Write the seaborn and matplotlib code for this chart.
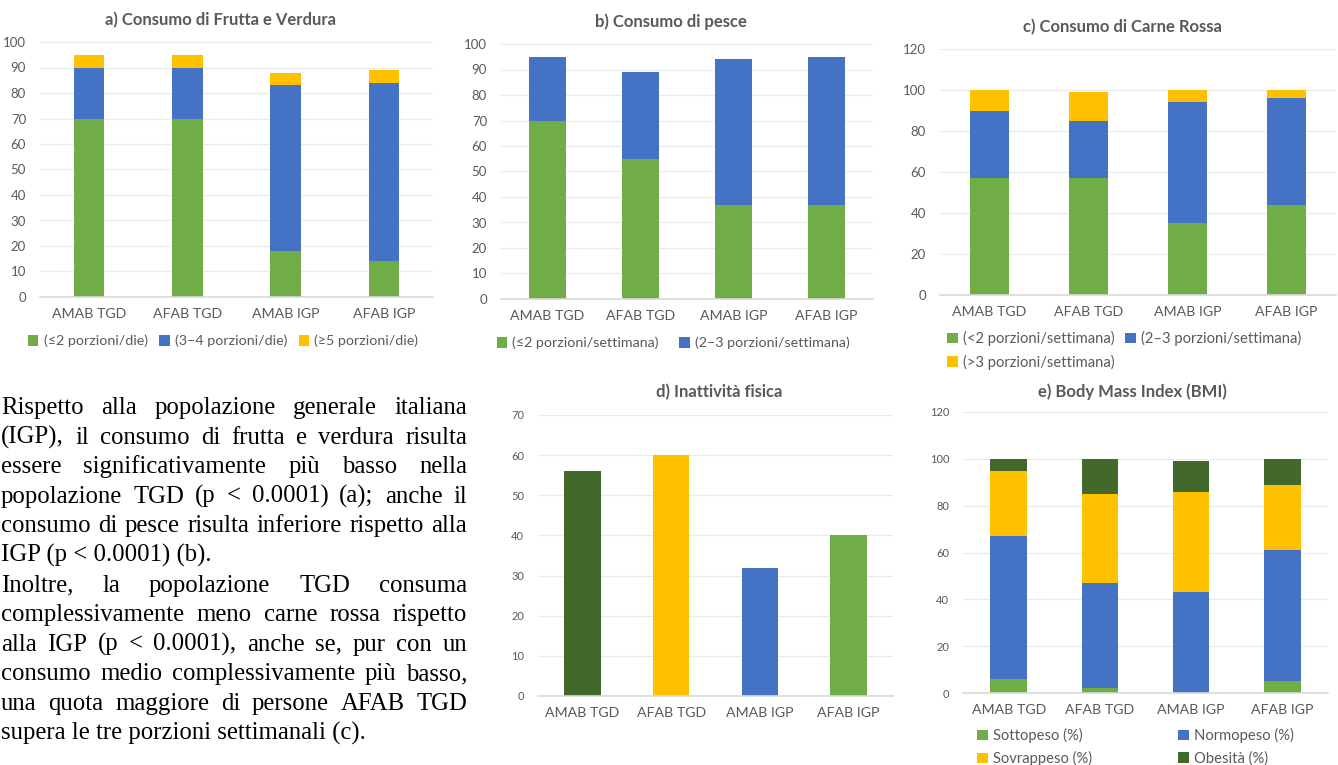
import numpy as np
import pandas as pd
import matplotlib
matplotlib.use("Agg")
import matplotlib.pyplot as plt
import seaborn as sns
from matplotlib.patches import Patch

# dati
gruppi = ["AMAB TGD", "AFAB TGD", "AMAB IGP", "AFAB IGP"]

# a) frutta e verdura
fv_le2 = [70, 70, 18, 14]
fv_3_4 = [20, 20, 65, 70]
fv_ge5 = [5, 5, 5, 5]
fv_labels = ["(≤2 porzioni/die)", "(3–4 porzioni/die)", "(≥5 porzioni/die)"]

# b) pesce
pesce_le2 = [70, 55, 37, 37]
pesce_2_3 = [25, 34, 57, 58]
pesce_labels = ["(≤2 porzioni/settimana)", "(2–3 porzioni/settimana)"]

# c) carne rossa
carne_lt2 = [57, 57, 35, 44]
carne_2_3 = [33, 28, 59, 52]
carne_gt3 = [10, 14, 6, 4]
carne_labels = ["(<2 porzioni/settimana)", "(2–3 porzioni/settimana)", "(>3 porzioni/settimana)"]

# d) inattivita fisica
inattivita = [56, 60, 32, 40]

# e) BMI
sottopeso = [6, 2, 0, 5]
normopeso = [61, 45, 43, 56]
sovrappeso = [28, 38, 43, 28]
obesita = [5, 15, 13, 11]
bmi_labels = ["Sottopeso (%)", "Normopeso (%)", "Sovrappeso (%)", "Obesità (%)"]

testo = [
    "Rispetto alla popolazione generale italiana",
    "(IGP), il consumo di frutta e verdura risulta",
    "essere significativamente più basso nella",
    "popolazione TGD (p < 0.0001) (a); anche il",
    "consumo di pesce risulta inferiore rispetto alla",
    "IGP (p < 0.0001) (b).",
    "Inoltre, la popolazione TGD consuma",
    "complessivamente meno carne rossa rispetto",
    "alla IGP (p < 0.0001), anche se, pur con un",
    "consumo medio complessivamente più basso,",
    "una quota maggiore di persone AFAB TGD",
    "supera le tre porzioni settimanali (c).",
]
fine_paragrafo = [5, 11]

VERDE = "#70AD47"
BLU = "#4472C4"
GIALLO = "#FFC000"
VERDE_SCURO = "#43682B"
GRIGIO = "#595959"

sns.set_theme(style="white")
plt.rcParams["font.family"] = ["Lato", "DejaVu Sans"]

W, H = 1338, 765
fig = plt.figure(figsize=(W / 100, H / 100), dpi=100)


def asse(left, right, top, bottom):
    return fig.add_axes([left / W, 1 - bottom / H, (right - left) / W, (bottom - top) / H])


def stile(ax, ymax, passo, fs_y, fs_x=10.2):
    ax.set_xlim(-0.5, 3.5)
    ax.set_ylim(0, ymax)
    ax.set_yticks(np.arange(0, ymax + 1, passo))
    ax.grid(axis="y", color="#EBEBEB", linewidth=0.9)
    ax.set_axisbelow(True)
    for s in ["top", "right", "left"]:
        ax.spines[s].set_visible(False)
    ax.spines["bottom"].set_color("#D9D9D9")
    ax.spines["bottom"].set_linewidth(1.2)
    ax.tick_params(axis="y", length=0, pad=10, labelsize=fs_y, labelcolor=GRIGIO)
    ax.tick_params(axis="x", length=0, pad=8, labelsize=fs_x, labelcolor=GRIGIO)
    ax.set_xlabel("")
    ax.set_ylabel("")


def impila(ax, strati, colori, larg):
    cum = np.cumsum(np.array(strati), axis=0)
    for i in range(len(strati) - 1, -1, -1):
        sns.barplot(x=gruppi, y=cum[i], color=colori[i], saturation=1, width=larg,
                    errorbar=None, linewidth=0, ax=ax)


def titolo(x, y, s):
    fig.text(x / W, 1 - y / H, s, ha="center", va="center", fontsize=12,
             fontweight="bold", color=GRIGIO)


def legenda(ax, labels, colori, x, y, ncol, loc="center", colsp=0.8, fs=10, lsp=0.45):
    handles = [Patch(facecolor=c, edgecolor="none") for c in colori]
    ax.legend(handles, labels, loc=loc, bbox_to_anchor=(x / W, 1 - y / H),
              bbox_transform=fig.transFigure, ncol=ncol, frameon=False,
              handlelength=0.75, handleheight=0.75, handletextpad=0.35,
              columnspacing=colsp, labelspacing=lsp, fontsize=fs, labelcolor=GRIGIO,
              borderaxespad=0, borderpad=0)


# a)
ax_a = asse(40, 433, 42, 297)
impila(ax_a, [fv_le2, fv_3_4, fv_ge5], [VERDE, BLU, GIALLO], 0.31)
stile(ax_a, 100, 10, 9.5)
titolo(220, 20, "a) Consumo di Frutta e Verdura")
legenda(ax_a, fv_labels, [VERDE, BLU, GIALLO], 223, 341, 3, fs=10.3)

# b)
ax_b = asse(501, 873, 44, 299)
impila(ax_b, [pesce_le2, pesce_2_3], [VERDE, BLU], 0.4)
stile(ax_b, 100, 10, 9.5)
titolo(671, 22, "b) Consumo di pesce")
legenda(ax_b, pesce_labels, [VERDE, BLU], 673, 343, 2, colsp=1.4, fs=10.3)

# c)
ax_c = asse(940, 1336, 49, 295)
impila(ax_c, [carne_lt2, carne_2_3, carne_gt3], [VERDE, BLU, GIALLO], 0.4)
stile(ax_c, 120, 20, 9.5)
titolo(1122, 27, "c) Consumo di Carne Rossa")
legenda(ax_c, [carne_labels[0], carne_labels[2], carne_labels[1]],
        [VERDE, GIALLO, BLU], 947, 331, 2, loc="upper left", colsp=0.7, fs=10.6, lsp=0.6)

# d)
ax_d = asse(538, 893, 415, 696)
sns.barplot(x=gruppi, y=inattivita, hue=gruppi, palette=[VERDE_SCURO, GIALLO, BLU, VERDE],
            saturation=1, width=0.41, errorbar=None, linewidth=0, legend=False, ax=ax_d)
stile(ax_d, 70, 10, 8)
titolo(719, 392, "d) Inattività fisica")

# e)
ax_e = asse(963, 1328, 412, 693)
impila(ax_e, [sottopeso, normopeso, sovrappeso, obesita],
       [VERDE, BLU, GIALLO, VERDE_SCURO], 0.4)
stile(ax_e, 120, 20, 8)
titolo(1132, 392, "e) Body Mass Index (BMI)")
legenda(ax_e, [bmi_labels[0], bmi_labels[2], bmi_labels[1], bmi_labels[3]],
        [VERDE, GIALLO, BLU, VERDE_SCURO], 977, 728, 2, loc="upper left", colsp=5.8,
        fs=10.6, lsp=0.55)

# testo giustificato a sinistra
SERIF = "Liberation Serif"
FS = 17.8
fig.canvas.draw()
rend = fig.canvas.get_renderer()


def larghezza(s):
    t = fig.text(0, 0, s, fontsize=FS, family=SERIF)
    w = t.get_window_extent(rend).width
    t.remove()
    return w


x0, x1 = 1, 467
y0, passo = 414, 29.6
for i, riga in enumerate(testo):
    y = 1 - (y0 + i * passo) / H
    if i in fine_paragrafo:
        fig.text(x0 / W, y, riga, fontsize=FS, family=SERIF, color="black", va="baseline")
        continue
    parole = riga.split(" ")
    ws = [larghezza(p) for p in parole]
    gap = (x1 - x0 - sum(ws)) / (len(parole) - 1)
    x = x0
    for p, w in zip(parole, ws):
        fig.text(x / W, y, p, fontsize=FS, family=SERIF, color="black", va="baseline")
        x += w + gap

fig.savefig("out.png", dpi=100)
